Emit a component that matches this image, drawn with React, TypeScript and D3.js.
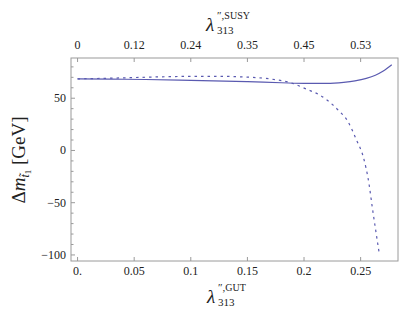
import * as d3 from 'd3';

// lambda''_313 at GUT scale (bottom axis) and delta m_stop1 in GeV
const SOLID_X = [0, 0.03, 0.06, 0.09, 0.12, 0.15, 0.18, 0.2, 0.22, 0.235, 0.245, 0.255, 0.263, 0.27, 0.2775];
const SOLID_Y = [68.5, 68.3, 67.9, 67.4, 66.7, 65.8, 64.8, 64.2, 64.2, 65.2, 66.6, 69, 72, 76, 82];

const DASHED_X = [0, 0.03, 0.06, 0.09, 0.12, 0.15, 0.17, 0.19, 0.2024, 0.2141, 0.2206, 0.2303, 0.2386, 0.2465, 0.2524, 0.2574, 0.2603, 0.2636, 0.2665];
const DASHED_Y = [68.5, 69.2, 70.1, 70.8, 71, 70.2, 68.5, 64.2, 58.6, 52.9, 48, 38.5, 28, 9.6, -6.4, -32, -54.5, -78.5, -99];

const X_TICKS = [0, 0.05, 0.1, 0.15, 0.2, 0.25];
const X_LABELS = ['0.', '0.05', '0.1', '0.15', '0.2', '0.25'];
const TOP_LABELS = ['0', '0.12', '0.24', '0.35', '0.45', '0.53'];
const Y_TICKS = [-100, -50, 0, 50];
const Y_MINOR = [-90, -80, -70, -60, -40, -30, -20, -10, 10, 20, 30, 40, 60, 70, 80];

const LINE = '#5a5ab0';
const FRAME = '#9a9a9a';
const FONT = "'Liberation Serif', 'DejaVu Serif', serif";

export default function App() {
  const left = 71, right = 398, top = 58, bottom = 261;
  const x = d3.scaleLinear().domain([-0.0058, 0.283]).range([left, right]);
  const y = d3.scaleLinear().domain([-105.8, 88.5]).range([bottom, top]);

  const line = d3.line<[number, number]>()
    .x((d) => x(d[0]))
    .y((d) => y(d[1]))
    .curve(d3.curveMonotoneX);

  const solid = line(SOLID_X.map((v, i) => [v, SOLID_Y[i]] as [number, number])) || '';
  const dashed = line(DASHED_X.map((v, i) => [v, DASHED_Y[i]] as [number, number])) || '';

  return (
    <svg width={415} height={319} style={{ position: 'absolute', left: 0, top: 0, background: '#fff' }} fontFamily={FONT}>
      <defs>
        <clipPath id="plot">
          <rect x={left} y={top} width={right - left} height={bottom - top} />
        </clipPath>
      </defs>

      {/* frame */}
      <rect x={left} y={top} width={right - left} height={bottom - top} fill="none" stroke={FRAME} strokeWidth={1} />

      {/* bottom + top ticks */}
      {X_TICKS.map((t, i) => (
        <g key={'x' + t}>
          <line x1={x(t)} x2={x(t)} y1={bottom} y2={bottom - 4} stroke={FRAME} />
          <line x1={x(t)} x2={x(t)} y1={top} y2={top + 4} stroke={FRAME} />
          <text x={x(t)} y={275} textAnchor="middle" fontSize={12} fill="#222">{X_LABELS[i]}</text>
          <text x={x(t)} y={49} textAnchor="middle" fontSize={12} fill="#222">{TOP_LABELS[i]}</text>
        </g>
      ))}

      {/* left ticks */}
      {Y_TICKS.map((t) => (
        <g key={'y' + t}>
          <line x1={left} x2={left + 4} y1={y(t)} y2={y(t)} stroke={FRAME} />
          <text x={left - 5} y={y(t) + 4} textAnchor="end" fontSize={12} fill="#222">{t < 0 ? '\u2212' + Math.abs(t) : t}</text>
        </g>
      ))}
      {Y_MINOR.map((t) => (
        <line key={'m' + t} x1={left} x2={left + 2.5} y1={y(t)} y2={y(t)} stroke={FRAME} />
      ))}

      {/* curves */}
      <g clipPath="url(#plot)">
        <path d={solid} fill="none" stroke={LINE} strokeWidth={1.2} />
        <path d={dashed} fill="none" stroke={LINE} strokeWidth={1.2} strokeDasharray="2.5,4" />
      </g>

      {/* top axis label */}
      <text x={206} y={31} fontSize={19} fontStyle="italic" fill="#222">λ</text>
      <text x={217} y={19} fontSize={11} fill="#222">″,<tspan fontSize={10}>SUSY</tspan></text>
      <text x={217} y={34} fontSize={11} fill="#222">313</text>

      {/* bottom axis label */}
      <text x={207} y={303} fontSize={19} fontStyle="italic" fill="#222">λ</text>
      <text x={218} y={291} fontSize={11} fill="#222">″,<tspan fontSize={10}>GUT</tspan></text>
      <text x={218} y={306} fontSize={11} fill="#222">313</text>

      {/* y axis label */}
      <g transform="translate(25,160) rotate(-90)">
        <text textAnchor="middle" fontSize={19} fill="#222">
          Δ<tspan fontStyle="italic">m</tspan>
          <tspan fontSize={12} dy={4} fontStyle="italic">t̃</tspan>
          <tspan fontSize={9} dy={2}>1</tspan>
          <tspan fontSize={19} dy={-6}> [GeV]</tspan>
        </text>
      </g>
    </svg>
  );
}
